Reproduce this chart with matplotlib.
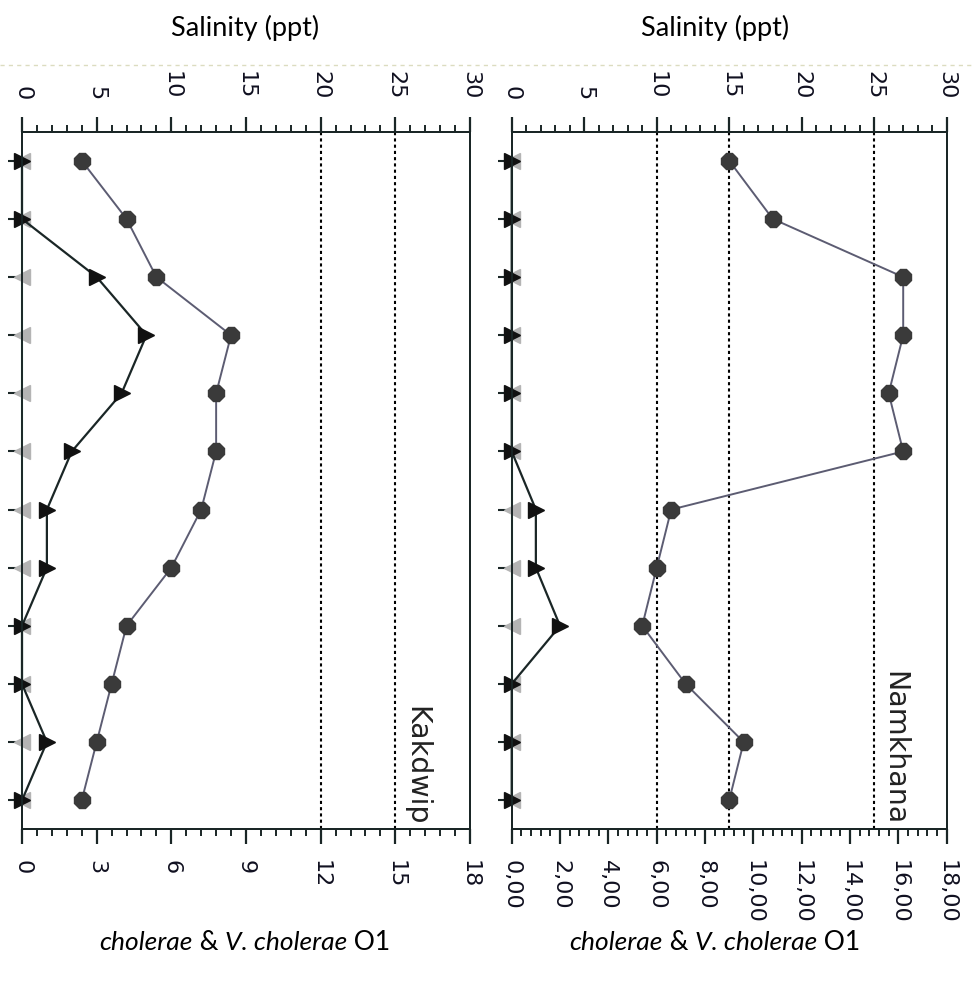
import numpy as np
import matplotlib
matplotlib.use("Agg")
import matplotlib.pyplot as plt
from matplotlib.ticker import MultipleLocator, FuncFormatter
from matplotlib.lines import Line2D
from matplotlib.offsetbox import TextArea, HPacker, AnnotationBbox

# data (sampling months 1..12)
months = np.arange(1, 13)
stations = ["Kakdwip", "Namkhana"]
salinity_kak = [4, 7, 9, 14, 13, 13, 12, 10, 7, 6, 5, 4]
vc_kak = [0, 0, 3, 5, 4, 2, 1, 1, 0, 0, 1, 0]
o1_kak = [0] * 12
salinity_nam = [15, 18, 27, 27, 26, 27, 11, 10, 9, 12, 16, 15]
vc_nam = [0, 0, 0, 0, 0, 0, 1, 1, 2, 0, 0, 0]
o1_nam = [0] * 12
ref_lines_kak = [20, 25]
ref_lines_nam = [10, 15, 25]
caption_parts = [("cholerae", "italic"), (" & ", "normal"), ("V. cholerae", "italic"), (" O1", "normal")]

plt.rcParams['font.family'] = 'DejaVu Sans'

fig = plt.figure(figsize=(9.73, 9.84), dpi=100)
W, H = 973.0, 984.0
dark = '#1a2626'
lab_col = '#101020'


def panel(x0, x1, sal, vc, o1, refs, name, bmaj, bmin, comma):
    ax = fig.add_axes([x0 / W, 1 - 829.3 / H, (x1 - x0) / W, (829.3 - 131.7) / H])
    ax.set_xlim(0, 18)
    ax.set_ylim(12.5, 0.5)
    ax.plot(o1, months, color='#a6e4cc', lw=1.6,
            marker='<', ms=12, mfc='#b4b4b4', mec='#b4b4b4', clip_on=False, zorder=3)
    ax.plot(vc, months, color=dark, lw=1.6, marker='>', ms=12,
            mfc='#111111', mec='#111111', clip_on=False, zorder=4)
    ax.set_yticks(months)
    ax.set_yticklabels([])
    ax.tick_params(axis='y', direction='out', length=10, width=1.5, color=dark)
    ax.xaxis.set_major_locator(MultipleLocator(bmaj))
    ax.xaxis.set_minor_locator(MultipleLocator(bmin))
    if comma:
        ax.xaxis.set_major_formatter(FuncFormatter(lambda v, p: ('%.2f' % v).replace('.', ',')))
    else:
        ax.xaxis.set_major_formatter(FuncFormatter(lambda v, p: '%d' % round(v)))
    ax.tick_params(axis='x', which='major', direction='out', length=11, width=1.6,
                   color=dark, labelsize=16, labelcolor=lab_col, pad=11, labelrotation=-90)
    ax.tick_params(axis='x', which='minor', direction='out', length=5, width=1.4, color=dark)
    for s in ax.spines.values():
        s.set_color(dark)
        s.set_linewidth(1.4)

    ax2 = ax.twiny()
    ax2.set_xlim(0, 30)
    ax2.set_ylim(12.5, 0.5)
    for r in refs:
        ax2.axvline(r, color='black', ls=(0, (1.5, 1.5)), lw=1.5, zorder=1)
    ax2.plot(sal, months, color='#5c5c72', lw=1.4, marker='8', ms=13,
             mfc='#3a3a3a', mec='#3a3a3a', clip_on=False, zorder=5)
    ax2.xaxis.set_major_locator(MultipleLocator(5))
    ax2.xaxis.set_minor_locator(MultipleLocator(1))
    ax2.tick_params(axis='x', which='major', direction='out', length=11, width=1.6,
                    color=dark, labelsize=16, labelcolor=lab_col, pad=12, labelrotation=-90)
    ax2.tick_params(axis='x', which='minor', direction='out', length=5, width=1.4, color=dark)
    for s in ax2.spines.values():
        s.set_color(dark)
        s.set_linewidth(1.4)

    ax.text(0.88, 0.006, name, transform=ax.transAxes, rotation=-90,
            ha='center', va='bottom', fontsize=20.5, color='#222222')
    return ax


panel(22, 470, salinity_kak, vc_kak, o1_kak, ref_lines_kak, stations[0], 3, 0.6, False)
panel(511.7, 946.7, salinity_nam, vc_nam, o1_nam, ref_lines_nam, stations[1], 2, 0.4, True)

for xc in (245, 715):
    fig.text(xc / W, 1 - 28 / H, 'Salinity (ppt)', ha='center', va='center',
             fontsize=19.5, family='Lato', color='black')
    boxes = [TextArea(t.replace(' ', '\u00a0'), textprops=dict(family='Lato', style=st,
                                                               fontsize=19, color='black'))
             for t, st in caption_parts]
    pack = HPacker(children=boxes, align='baseline', pad=0, sep=0)
    ab = AnnotationBbox(pack, (xc / W, 1 - 943 / H), xycoords='figure fraction',
                        frameon=False, box_alignment=(0.5, 0.5))
    fig.add_artist(ab)

fig.add_artist(Line2D([0, 1], [1 - 65 / H] * 2, transform=fig.transFigure,
                      color='#dcdcc0', ls=(0, (3, 3)), lw=1))

fig.savefig('out.png', dpi=100)
